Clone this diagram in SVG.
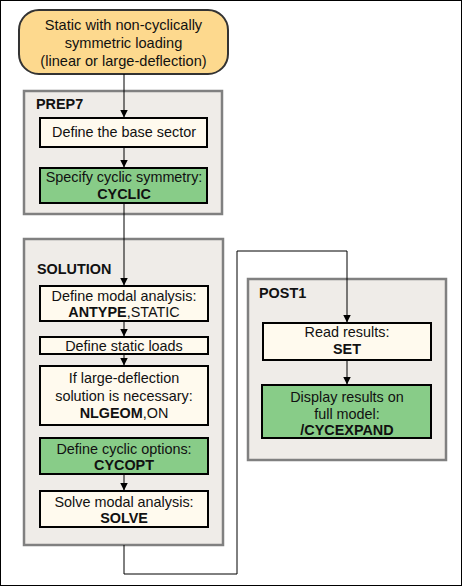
<svg xmlns="http://www.w3.org/2000/svg" width="462" height="586" viewBox="0 0 462 586">
<defs>
<marker id="ah" markerWidth="8" markerHeight="9" refX="7.5" refY="4" orient="auto" markerUnits="userSpaceOnUse">
<path d="M0,0 L8,4 L0,8 Z" fill="#000"/>
</marker>
</defs>
<style>
text{font-family:"Liberation Sans",Arial,sans-serif;font-size:14.4px;fill:#111;text-anchor:middle}
.b{font-weight:bold}
.lbl{font-weight:bold;text-anchor:start}
.cont{fill:#EFECE8;stroke:#808080;stroke-width:2.5}
.box{fill:#FFFAEE;stroke:#000;stroke-width:2}
.grn{fill:#88CC88;stroke:#000;stroke-width:2}
.start{fill:#FDD98E;stroke:#333;stroke-width:2}
.con{fill:none;stroke:#000;stroke-width:1}
</style>
<rect x="0.5" y="0.5" width="461" height="585" fill="#fff" stroke="#000" stroke-width="1"/>

<g id="prep7">
<rect class="cont" x="24" y="91" width="198" height="123"/>
<text class="lbl" x="36" y="109">PREP7</text>
</g>
<g id="solution">
<rect class="cont" x="24" y="239" width="199" height="306"/>
<text class="lbl" x="37" y="274">SOLUTION</text>
</g>
<g id="post1">
<rect class="cont" x="248" y="279" width="198" height="181"/>
<text class="lbl" x="259" y="298">POST1</text>
</g>

<g id="start">
<rect class="start" x="19" y="10" width="209" height="64" rx="20" ry="20"/>
<text x="123.5" y="30" style="font-size:14.6px">Static with non-cyclically</text>
<text x="123.5" y="48" style="font-size:14.6px">symmetric loading</text>
<text x="123.5" y="66" style="font-size:14.6px">(linear or large-deflection)</text>
</g>

<g id="base">
<rect class="box" x="40" y="118" width="167" height="29"/>
<text x="124" y="137">Define the base sector</text>
</g>
<g id="cyclic">
<rect class="grn" x="40" y="168" width="167" height="35"/>
<text x="124" y="182">Specify cyclic symmetry:</text>
<text class="b" x="124" y="199">CYCLIC</text>
</g>

<g id="antype">
<rect class="box" x="40" y="286" width="168" height="35"/>
<text x="124" y="301">Define modal analysis:</text>
<text x="124" y="317"><tspan class="b">ANTYPE</tspan>,STATIC</text>
</g>
<g id="loads">
<rect class="box" x="40" y="337" width="168" height="17"/>
<text x="124" y="351">Define static loads</text>
</g>
<g id="nlgeom">
<rect class="box" x="40" y="366" width="168" height="59"/>
<text x="124" y="383">If large-deflection</text>
<text x="124" y="401">solution is necessary:</text>
<text x="124" y="418"><tspan class="b">NLGEOM</tspan>,ON</text>
</g>
<g id="cycopt">
<rect class="grn" x="40" y="438" width="168" height="36"/>
<text x="124" y="454">Define cyclic options:</text>
<text class="b" x="124" y="470">CYCOPT</text>
</g>
<g id="solve">
<rect class="box" x="40" y="491" width="168" height="36"/>
<text x="124" y="507">Solve modal analysis:</text>
<text class="b" x="124" y="523">SOLVE</text>
</g>

<g id="set">
<rect class="box" x="263" y="323" width="168" height="37"/>
<text x="347" y="337">Read results:</text>
<text class="b" x="347" y="354">SET</text>
</g>
<g id="cycexpand">
<rect class="grn" x="262" y="385" width="169" height="53"/>
<text x="347" y="402">Display results on</text>
<text x="347" y="419">full model:</text>
<text class="b" x="347" y="435">/CYCEXPAND</text>
</g>

<g id="connectors">
<line class="con" x1="124" y1="74" x2="124" y2="117" marker-end="url(#ah)"/>
<line class="con" x1="124" y1="147" x2="124" y2="167" marker-end="url(#ah)"/>
<line class="con" x1="124" y1="203" x2="124" y2="285" marker-end="url(#ah)"/>
<line class="con" x1="124" y1="321" x2="124" y2="336" marker-end="url(#ah)"/>
<line class="con" x1="124" y1="354" x2="124" y2="365" marker-end="url(#ah)"/>
<line class="con" x1="124" y1="474" x2="124" y2="490" marker-end="url(#ah)"/>
<polyline class="con" points="124,545 124,574 237,574 237,251 347,251 347,322" marker-end="url(#ah)"/>
<line class="con" x1="347" y1="360" x2="347" y2="384" marker-end="url(#ah)"/>
</g>
</svg>
